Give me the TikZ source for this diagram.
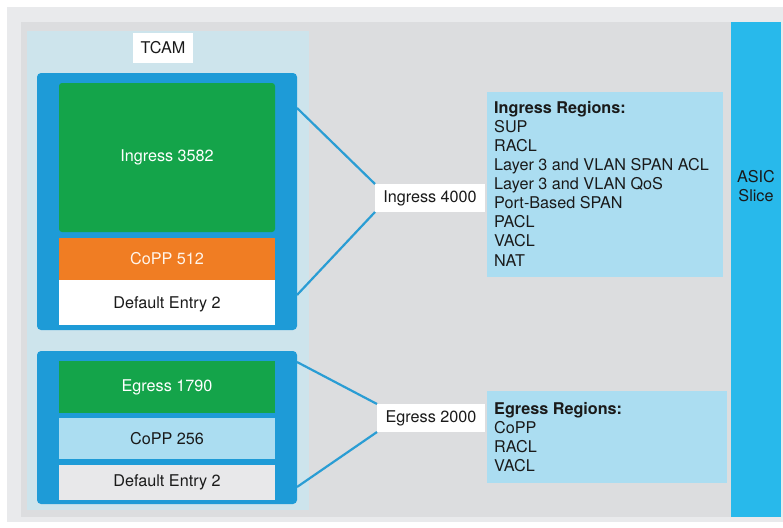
\documentclass[tikz,border=0pt]{standalone}
\usepackage{fontspec}
\setmainfont{TeX Gyre Heros}
\definecolor{pagebg}{HTML}{E9EAEC}
\definecolor{framebg}{HTML}{DCDDDF}
\definecolor{tcambg}{HTML}{CDE4EC}
\definecolor{memblue}{HTML}{1E9BD7}
\definecolor{memgreen}{HTML}{14A44A}
\definecolor{memorange}{HTML}{F07D23}
\definecolor{palecyan}{HTML}{ABDDF1}
\definecolor{entrygray}{HTML}{E8E8EA}
\definecolor{asicblue}{HTML}{28B9EB}
\definecolor{linkblue}{HTML}{2A9DD4}
\definecolor{textdark}{HTML}{1A1A1A}
\tikzset{
  panel/.style={anchor=north west, inner sep=0pt, outer sep=0pt, draw=none},
  block/.style={panel, rounded corners=4pt},
  lbl/.style={font=\fontsize{16.2}{19.1}\selectfont, text=textdark},
  tag/.style={fill=white, inner sep=0pt, outer sep=0pt, lbl},
  link/.style={draw=linkblue, line width=2.2pt},
}
\begin{document}
\begin{tikzpicture}[x=1pt, y=-1pt]
\useasboundingbox (0,0) rectangle (783,527);
\fill[white] (0,0) rectangle (783,527);
% backgrounds
\fill[pagebg] (7,7) rectangle (783,522);
\fill[framebg] (21,22) rectangle (781,517);
\fill[tcambg] (27,31) rectangle (309,510);
% ASIC slice bar
\node[panel, fill=asicblue, minimum width=50pt, minimum height=495pt] (asic) at (731,22) {};
\node[lbl, align=center] (asiclbl) at (756,186) {ASIC\\Slice};
% TCAM title
\node[tag, minimum width=60pt, minimum height=30pt] (tcam) at (163,48) {TCAM};
% ingress block
\node[block, fill=memblue, minimum width=260pt, minimum height=257pt] (ingbox) at (37,73) {};
\node[block, rounded corners=3pt, fill=memgreen, minimum width=216pt, minimum height=149pt] (ing) at (59,83) {};
\node[lbl, text=white] at (ing.center) {Ingress 3582};
\node[panel, fill=memorange, minimum width=216pt, minimum height=42pt] (copp1) at (59,238) {};
\node[lbl, text=white!92!orange] at (copp1.center) {CoPP 512};
\node[panel, fill=white, minimum width=216pt, minimum height=45pt] (def1) at (59,280) {};
\node[lbl] at ([yshift=-2pt]def1.center) {Default Entry 2};
% egress block
\node[block, fill=memblue, minimum width=260pt, minimum height=153pt] (egbox) at (37,351) {};
\node[panel, fill=memgreen, minimum width=216pt, minimum height=52pt] (eg) at (59,361) {};
\node[lbl, text=white] at (eg.center) {Egress 1790};
\node[panel, fill=palecyan, minimum width=216pt, minimum height=41pt] (copp2) at (59,418) {};
\node[lbl] at (copp2.center) {CoPP 256};
\node[panel, fill=entrygray, minimum width=216pt, minimum height=35pt] (def2) at (59,465) {};
\node[lbl] at (def2.center) {Default Entry 2};
% totals
\node[tag, minimum width=110pt, minimum height=28pt] (itot) at (430,198) {Ingress 4000};
\node[tag, minimum width=108pt, minimum height=28pt] (etot) at (431,418) {Egress 2000};
\coordinate (i1) at (297,108);
\coordinate (i2) at (297,295);
\coordinate (e1) at (297,362);
\coordinate (e2) at (297,487);
\draw[link] (i1) -- (itot.north west);
\draw[link] (i2) -- (itot.south west);
\draw[link] (e1) -- (etot.north west);
\draw[link] (e2) -- (etot.south west);
% region lists
\node[panel, fill=palecyan, minimum width=236pt, minimum height=185pt] (ireg) at (487,92) {};
\node[lbl, anchor=north west, align=left, inner sep=0pt] (iregtxt) at (494,101)
  {\textbf{Ingress Regions:}\\SUP\\RACL\\Layer 3 and VLAN SPAN ACL\\Layer 3 and VLAN QoS\\Port-Based SPAN\\PACL\\VACL\\NAT};
\node[panel, fill=palecyan, minimum width=240pt, minimum height=92pt] (ereg) at (487,391) {};
\node[lbl, anchor=north west, align=left, inner sep=0pt] (eregtxt) at (494,402)
  {\textbf{Egress Regions:}\\CoPP\\RACL\\VACL};
\end{tikzpicture}
\end{document}
